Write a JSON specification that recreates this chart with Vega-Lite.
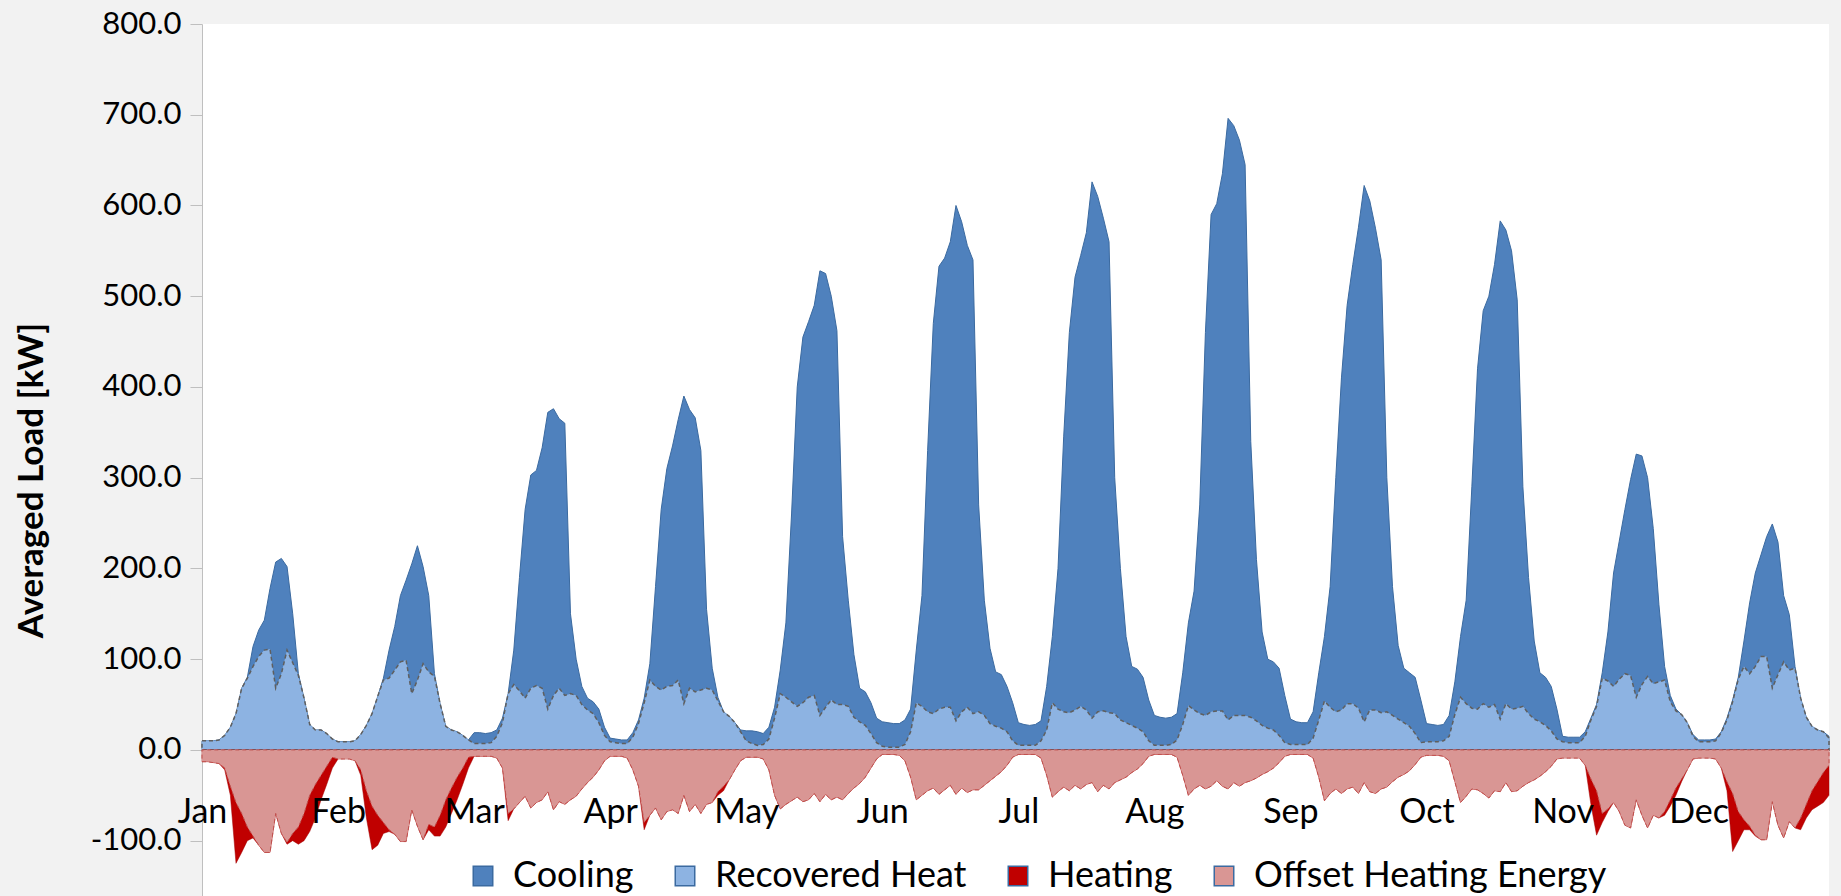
{
"$schema":"https://vega.github.io/schema/vega-lite/v6.json",
"width":1627,"height":872,
"autosize":{"type":"none"},
"padding":{"left":202,"top":24,"right":12,"bottom":0},
"background":"#f2f2f2",
"config":{"view":{"fill":"white","stroke":null},"font":"Lato"},
"data":{"values":[
{"i":0,"c":10,"r":10,"h":-13,"o":-13},{"i":1,"c":10,"r":10,"h":-13,"o":-13},{"i":2,"c":10,"r":10,"h":-14,"o":-14},{"i":3,"c":11,"r":11,"h":-15,"o":-15},{"i":4,"c":16,"r":16,"h":-22,"o":-20},{"i":5,"c":25,"r":25,"h":-50,"o":-40},{"i":6,"c":40,"r":40,"h":-125,"o":-58},{"i":7,"c":68,"r":68,"h":-113,"o":-70},{"i":8,"c":80,"r":79,"h":-100,"o":-85},{"i":9,"c":114,"r":92,"h":-97,"o":-95},{"i":10,"c":132,"r":103,"h":-105,"o":-105},{"i":11,"c":143,"r":110,"h":-113,"o":-113},{"i":12,"c":178,"r":111,"h":-113,"o":-113},{"i":13,"c":207,"r":68,"h":-70,"o":-70},{"i":14,"c":211,"r":84,"h":-92,"o":-92},{"i":15,"c":202,"r":110,"h":-104,"o":-102},{"i":16,"c":150,"r":96,"h":-100,"o":-92},{"i":17,"c":84,"r":82,"h":-104,"o":-85},{"i":18,"c":57,"r":57,"h":-100,"o":-70},{"i":19,"c":28,"r":28,"h":-90,"o":-50},{"i":20,"c":22,"r":22,"h":-75,"o":-38},{"i":21,"c":22,"r":22,"h":-55,"o":-28},{"i":22,"c":18,"r":18,"h":-38,"o":-18},{"i":23,"c":12,"r":12,"h":-20,"o":-8},
{"i":24,"c":9,"r":9,"h":-10,"o":-10},{"i":25,"c":9,"r":9,"h":-10,"o":-10},{"i":26,"c":9,"r":9,"h":-10,"o":-10},{"i":27,"c":10,"r":10,"h":-12,"o":-12},{"i":28,"c":17,"r":17,"h":-28,"o":-22},{"i":29,"c":27,"r":27,"h":-75,"o":-45},{"i":30,"c":40,"r":40,"h":-110,"o":-62},{"i":31,"c":59,"r":59,"h":-105,"o":-72},{"i":32,"c":79,"r":77,"h":-92,"o":-80},{"i":33,"c":110,"r":79,"h":-90,"o":-88},{"i":34,"c":136,"r":88,"h":-93,"o":-93},{"i":35,"c":170,"r":97,"h":-101,"o":-101},{"i":36,"c":187,"r":99,"h":-101,"o":-101},{"i":37,"c":205,"r":62,"h":-66,"o":-66},{"i":38,"c":225,"r":77,"h":-84,"o":-84},{"i":39,"c":202,"r":95,"h":-99,"o":-99},{"i":40,"c":170,"r":86,"h":-88,"o":-82},{"i":41,"c":84,"r":81,"h":-95,"o":-85},{"i":42,"c":51,"r":51,"h":-95,"o":-72},{"i":43,"c":26,"r":26,"h":-85,"o":-55},{"i":44,"c":22,"r":22,"h":-70,"o":-42},{"i":45,"c":20,"r":20,"h":-55,"o":-30},{"i":46,"c":16,"r":16,"h":-38,"o":-20},{"i":47,"c":11,"r":11,"h":-20,"o":-8},
{"i":48,"c":19,"r":7,"h":-7,"o":-7},{"i":49,"c":19,"r":7,"h":-7,"o":-7},{"i":50,"c":18,"r":7,"h":-7,"o":-7},{"i":51,"c":19,"r":8,"h":-7,"o":-7},{"i":52,"c":22,"r":15,"h":-9,"o":-9},{"i":53,"c":35,"r":30,"h":-20,"o":-20},{"i":54,"c":62,"r":62,"h":-78,"o":-70},{"i":55,"c":110,"r":72,"h":-65,"o":-65},{"i":56,"c":190,"r":65,"h":-58,"o":-58},{"i":57,"c":265,"r":57,"h":-51,"o":-51},{"i":58,"c":303,"r":68,"h":-64,"o":-64},{"i":59,"c":308,"r":71,"h":-58,"o":-58},{"i":60,"c":333,"r":68,"h":-55,"o":-55},{"i":61,"c":372,"r":45,"h":-46,"o":-46},{"i":62,"c":376,"r":60,"h":-66,"o":-66},{"i":63,"c":365,"r":68,"h":-57,"o":-57},{"i":64,"c":360,"r":60,"h":-60,"o":-60},{"i":65,"c":150,"r":62,"h":-55,"o":-55},{"i":66,"c":100,"r":60,"h":-51,"o":-51},{"i":67,"c":70,"r":50,"h":-43,"o":-43},{"i":68,"c":57,"r":44,"h":-36,"o":-36},{"i":69,"c":53,"r":40,"h":-30,"o":-30},{"i":70,"c":45,"r":30,"h":-22,"o":-22},{"i":71,"c":25,"r":16,"h":-12,"o":-12},
{"i":72,"c":13,"r":9,"h":-7,"o":-7},{"i":73,"c":12,"r":8,"h":-7,"o":-7},{"i":74,"c":11,"r":7,"h":-7,"o":-7},{"i":75,"c":11,"r":7,"h":-9,"o":-9},{"i":76,"c":19,"r":14,"h":-22,"o":-22},{"i":77,"c":33,"r":29,"h":-40,"o":-40},{"i":78,"c":57,"r":52,"h":-88,"o":-80},{"i":79,"c":95,"r":77,"h":-72,"o":-72},{"i":80,"c":180,"r":70,"h":-64,"o":-64},{"i":81,"c":265,"r":66,"h":-77,"o":-77},{"i":82,"c":310,"r":70,"h":-68,"o":-68},{"i":83,"c":335,"r":71,"h":-66,"o":-66},{"i":84,"c":364,"r":77,"h":-70,"o":-70},{"i":85,"c":390,"r":51,"h":-50,"o":-50},{"i":86,"c":375,"r":68,"h":-68,"o":-68},{"i":87,"c":366,"r":64,"h":-60,"o":-60},{"i":88,"c":330,"r":66,"h":-70,"o":-70},{"i":89,"c":155,"r":68,"h":-60,"o":-60},{"i":90,"c":90,"r":66,"h":-58,"o":-58},{"i":91,"c":58,"r":54,"h":-50,"o":-46},{"i":92,"c":42,"r":42,"h":-45,"o":-40},{"i":93,"c":37,"r":37,"h":-33,"o":-33},{"i":94,"c":30,"r":30,"h":-22,"o":-22},{"i":95,"c":22,"r":20,"h":-12,"o":-12},
{"i":96,"c":21,"r":10,"h":-8,"o":-8},{"i":97,"c":21,"r":7,"h":-8,"o":-8},{"i":98,"c":20,"r":5,"h":-8,"o":-8},{"i":99,"c":18,"r":6,"h":-10,"o":-10},{"i":100,"c":25,"r":12,"h":-22,"o":-22},{"i":101,"c":47,"r":35,"h":-50,"o":-50},{"i":102,"c":88,"r":62,"h":-65,"o":-65},{"i":103,"c":140,"r":58,"h":-60,"o":-60},{"i":104,"c":260,"r":53,"h":-56,"o":-56},{"i":105,"c":400,"r":48,"h":-52,"o":-52},{"i":106,"c":455,"r":52,"h":-57,"o":-57},{"i":107,"c":472,"r":58,"h":-55,"o":-55},{"i":108,"c":490,"r":60,"h":-48,"o":-48},{"i":109,"c":528,"r":38,"h":-57,"o":-57},{"i":110,"c":525,"r":47,"h":-49,"o":-49},{"i":111,"c":500,"r":55,"h":-55,"o":-55},{"i":112,"c":462,"r":50,"h":-52,"o":-52},{"i":113,"c":235,"r":50,"h":-55,"o":-55},{"i":114,"c":165,"r":48,"h":-48,"o":-48},{"i":115,"c":105,"r":36,"h":-42,"o":-42},{"i":116,"c":68,"r":31,"h":-37,"o":-37},{"i":117,"c":64,"r":27,"h":-30,"o":-30},{"i":118,"c":52,"r":18,"h":-20,"o":-20},{"i":119,"c":35,"r":8,"h":-10,"o":-10},
{"i":120,"c":31,"r":4,"h":-5,"o":-5},{"i":121,"c":30,"r":3,"h":-5,"o":-5},{"i":122,"c":29,"r":3,"h":-5,"o":-5},{"i":123,"c":29,"r":3,"h":-6,"o":-6},{"i":124,"c":33,"r":6,"h":-12,"o":-12},{"i":125,"c":45,"r":20,"h":-30,"o":-30},{"i":126,"c":110,"r":52,"h":-55,"o":-55},{"i":127,"c":170,"r":48,"h":-50,"o":-50},{"i":128,"c":330,"r":42,"h":-45,"o":-45},{"i":129,"c":470,"r":40,"h":-42,"o":-42},{"i":130,"c":533,"r":45,"h":-49,"o":-49},{"i":131,"c":542,"r":47,"h":-44,"o":-44},{"i":132,"c":560,"r":47,"h":-39,"o":-39},{"i":133,"c":600,"r":32,"h":-49,"o":-49},{"i":134,"c":582,"r":42,"h":-42,"o":-42},{"i":135,"c":556,"r":47,"h":-47,"o":-47},{"i":136,"c":540,"r":40,"h":-44,"o":-44},{"i":137,"c":270,"r":42,"h":-44,"o":-44},{"i":138,"c":165,"r":38,"h":-39,"o":-39},{"i":139,"c":112,"r":29,"h":-34,"o":-34},{"i":140,"c":86,"r":26,"h":-29,"o":-29},{"i":141,"c":83,"r":24,"h":-24,"o":-24},{"i":142,"c":70,"r":20,"h":-17,"o":-17},{"i":143,"c":52,"r":10,"h":-8,"o":-8},
{"i":144,"c":30,"r":5,"h":-5,"o":-5},{"i":145,"c":28,"r":5,"h":-5,"o":-5},{"i":146,"c":27,"r":5,"h":-5,"o":-5},{"i":147,"c":28,"r":5,"h":-5,"o":-5},{"i":148,"c":32,"r":10,"h":-9,"o":-9},{"i":149,"c":70,"r":22,"h":-28,"o":-28},{"i":150,"c":125,"r":52,"h":-52,"o":-52},{"i":151,"c":200,"r":45,"h":-46,"o":-46},{"i":152,"c":345,"r":42,"h":-41,"o":-41},{"i":153,"c":460,"r":41,"h":-45,"o":-45},{"i":154,"c":521,"r":44,"h":-39,"o":-39},{"i":155,"c":545,"r":48,"h":-43,"o":-43},{"i":156,"c":570,"r":44,"h":-38,"o":-38},{"i":157,"c":626,"r":35,"h":-36,"o":-36},{"i":158,"c":610,"r":42,"h":-46,"o":-46},{"i":159,"c":586,"r":43,"h":-39,"o":-39},{"i":160,"c":560,"r":41,"h":-43,"o":-43},{"i":161,"c":300,"r":40,"h":-36,"o":-36},{"i":162,"c":200,"r":33,"h":-33,"o":-33},{"i":163,"c":125,"r":30,"h":-30,"o":-30},{"i":164,"c":92,"r":27,"h":-25,"o":-25},{"i":165,"c":89,"r":24,"h":-21,"o":-21},{"i":166,"c":80,"r":20,"h":-15,"o":-15},{"i":167,"c":55,"r":10,"h":-7,"o":-7},
{"i":168,"c":38,"r":5,"h":-5,"o":-5},{"i":169,"c":36,"r":5,"h":-5,"o":-5},{"i":170,"c":35,"r":5,"h":-5,"o":-5},{"i":171,"c":36,"r":6,"h":-5,"o":-5},{"i":172,"c":40,"r":11,"h":-8,"o":-8},{"i":173,"c":85,"r":28,"h":-28,"o":-28},{"i":174,"c":140,"r":49,"h":-50,"o":-50},{"i":175,"c":175,"r":44,"h":-43,"o":-43},{"i":176,"c":270,"r":40,"h":-39,"o":-39},{"i":177,"c":460,"r":38,"h":-43,"o":-43},{"i":178,"c":590,"r":42,"h":-40,"o":-40},{"i":179,"c":602,"r":43,"h":-34,"o":-34},{"i":180,"c":635,"r":43,"h":-40,"o":-40},{"i":181,"c":696,"r":33,"h":-43,"o":-43},{"i":182,"c":688,"r":38,"h":-36,"o":-36},{"i":183,"c":672,"r":38,"h":-40,"o":-40},{"i":184,"c":645,"r":38,"h":-36,"o":-36},{"i":185,"c":340,"r":36,"h":-34,"o":-34},{"i":186,"c":210,"r":32,"h":-31,"o":-31},{"i":187,"c":130,"r":27,"h":-27,"o":-27},{"i":188,"c":100,"r":24,"h":-24,"o":-24},{"i":189,"c":97,"r":22,"h":-20,"o":-20},{"i":190,"c":90,"r":16,"h":-14,"o":-14},{"i":191,"c":60,"r":8,"h":-7,"o":-7},
{"i":192,"c":34,"r":6,"h":-5,"o":-5},{"i":193,"c":31,"r":6,"h":-5,"o":-5},{"i":194,"c":30,"r":6,"h":-5,"o":-5},{"i":195,"c":30,"r":6,"h":-5,"o":-5},{"i":196,"c":42,"r":13,"h":-9,"o":-9},{"i":197,"c":85,"r":33,"h":-30,"o":-30},{"i":198,"c":125,"r":54,"h":-56,"o":-56},{"i":199,"c":180,"r":47,"h":-48,"o":-48},{"i":200,"c":300,"r":42,"h":-43,"o":-43},{"i":201,"c":410,"r":44,"h":-48,"o":-48},{"i":202,"c":490,"r":51,"h":-43,"o":-43},{"i":203,"c":535,"r":51,"h":-41,"o":-41},{"i":204,"c":576,"r":46,"h":-48,"o":-48},{"i":205,"c":622,"r":31,"h":-36,"o":-36},{"i":206,"c":605,"r":44,"h":-46,"o":-46},{"i":207,"c":575,"r":44,"h":-48,"o":-48},{"i":208,"c":540,"r":41,"h":-43,"o":-43},{"i":209,"c":300,"r":42,"h":-41,"o":-41},{"i":210,"c":180,"r":38,"h":-35,"o":-35},{"i":211,"c":115,"r":34,"h":-30,"o":-30},{"i":212,"c":90,"r":30,"h":-27,"o":-27},{"i":213,"c":85,"r":26,"h":-23,"o":-23},{"i":214,"c":80,"r":18,"h":-16,"o":-16},{"i":215,"c":55,"r":8,"h":-8,"o":-8},
{"i":216,"c":29,"r":9,"h":-6,"o":-6},{"i":217,"c":28,"r":9,"h":-6,"o":-6},{"i":218,"c":27,"r":9,"h":-6,"o":-6},{"i":219,"c":28,"r":10,"h":-7,"o":-7},{"i":220,"c":38,"r":15,"h":-12,"o":-12},{"i":221,"c":75,"r":39,"h":-35,"o":-35},{"i":222,"c":125,"r":58,"h":-58,"o":-58},{"i":223,"c":165,"r":51,"h":-51,"o":-51},{"i":224,"c":290,"r":46,"h":-43,"o":-43},{"i":225,"c":420,"r":45,"h":-44,"o":-44},{"i":226,"c":484,"r":51,"h":-48,"o":-48},{"i":227,"c":500,"r":47,"h":-53,"o":-53},{"i":228,"c":535,"r":50,"h":-45,"o":-45},{"i":229,"c":583,"r":34,"h":-46,"o":-46},{"i":230,"c":573,"r":51,"h":-36,"o":-36},{"i":231,"c":550,"r":45,"h":-46,"o":-46},{"i":232,"c":496,"r":46,"h":-45,"o":-45},{"i":233,"c":290,"r":48,"h":-40,"o":-40},{"i":234,"c":190,"r":40,"h":-36,"o":-36},{"i":235,"c":120,"r":34,"h":-33,"o":-33},{"i":236,"c":85,"r":31,"h":-29,"o":-29},{"i":237,"c":80,"r":27,"h":-24,"o":-24},{"i":238,"c":70,"r":21,"h":-18,"o":-18},{"i":239,"c":45,"r":12,"h":-10,"o":-10},
{"i":240,"c":15,"r":9,"h":-9,"o":-9},{"i":241,"c":14,"r":8,"h":-9,"o":-9},{"i":242,"c":14,"r":8,"h":-9,"o":-9},{"i":243,"c":14,"r":8,"h":-9,"o":-9},{"i":244,"c":20,"r":15,"h":-17,"o":-17},{"i":245,"c":35,"r":33,"h":-60,"o":-32},{"i":246,"c":50,"r":48,"h":-94,"o":-45},{"i":247,"c":85,"r":79,"h":-80,"o":-70},{"i":248,"c":130,"r":76,"h":-68,"o":-65},{"i":249,"c":195,"r":70,"h":-58,"o":-58},{"i":250,"c":230,"r":78,"h":-68,"o":-68},{"i":251,"c":265,"r":84,"h":-83,"o":-83},{"i":252,"c":298,"r":82,"h":-86,"o":-86},{"i":253,"c":326,"r":58,"h":-55,"o":-55},{"i":254,"c":324,"r":72,"h":-72,"o":-72},{"i":255,"c":300,"r":81,"h":-86,"o":-86},{"i":256,"c":244,"r":73,"h":-72,"o":-72},{"i":257,"c":160,"r":75,"h":-75,"o":-75},{"i":258,"c":92,"r":77,"h":-72,"o":-68},{"i":259,"c":60,"r":53,"h":-62,"o":-55},{"i":260,"c":45,"r":43,"h":-50,"o":-42},{"i":261,"c":39,"r":39,"h":-35,"o":-32},{"i":262,"c":30,"r":30,"h":-22,"o":-22},{"i":263,"c":17,"r":15,"h":-10,"o":-10},
{"i":264,"c":11,"r":9,"h":-9,"o":-9},{"i":265,"c":11,"r":9,"h":-9,"o":-9},{"i":266,"c":11,"r":9,"h":-9,"o":-9},{"i":267,"c":12,"r":10,"h":-10,"o":-10},{"i":268,"c":20,"r":19,"h":-20,"o":-20},{"i":269,"c":35,"r":33,"h":-45,"o":-35},{"i":270,"c":55,"r":53,"h":-112,"o":-48},{"i":271,"c":80,"r":78,"h":-100,"o":-68},{"i":272,"c":120,"r":92,"h":-88,"o":-77},{"i":273,"c":162,"r":84,"h":-88,"o":-84},{"i":274,"c":195,"r":92,"h":-95,"o":-94},{"i":275,"c":215,"r":103,"h":-99,"o":-99},{"i":276,"c":235,"r":103,"h":-99,"o":-99},{"i":277,"c":249,"r":68,"h":-57,"o":-57},{"i":278,"c":229,"r":83,"h":-83,"o":-83},{"i":279,"c":170,"r":97,"h":-97,"o":-97},{"i":280,"c":149,"r":88,"h":-79,"o":-79},{"i":281,"c":92,"r":90,"h":-86,"o":-86},{"i":282,"c":57,"r":57,"h":-88,"o":-75},{"i":283,"c":36,"r":36,"h":-75,"o":-60},{"i":284,"c":26,"r":26,"h":-66,"o":-45},{"i":285,"c":22,"r":22,"h":-62,"o":-35},{"i":286,"c":20,"r":20,"h":-58,"o":-25},{"i":287,"c":15,"r":13,"h":-50,"o":-17}
]},
"encoding":{
"x":{"field":"i","type":"quantitative","scale":{"domain":[0,287],"nice":false,"zero":false},
 "axis":{"values":[0,24,48,72,96,120,144,168,192,216,240,264],"labelExpr":"['Jan','Feb','Mar','Apr','May','Jun','Jul','Aug','Sep','Oct','Nov','Dec'][round(datum.value/24)]","domain":false,"ticks":false,"grid":false,"labelFlush":false,"labelOverlap":false,"labelBound":false,"labelFont":"Lato","labelFontSize":34,"labelColor":"#000000","labelBaseline":"middle","labelPadding":0,"offset":-84,"title":null,"zindex":1}},
"y":{"field":"kW","type":"quantitative","stack":null,"scale":{"domain":[-161,800],"nice":false,"zero":false},
 "axis":{"values":[-100,0,100,200,300,400,500,600,700,800],"labelExpr":"datum.value < 0 ? '-' + format(-datum.value, '.1f') : format(datum.value, '.1f')","grid":false,"title":"Averaged Load [kW]","titleFont":"Lato","titleFontSize":35,"titleFontWeight":"bold","titleColor":"#000000","titleAngle":270,"titleAlign":"center","titleBaseline":"middle","titleX":-171,"titleY":456,"labelFont":"Lato","labelFontSize":31,"labelColor":"#000000","labelPadding":9,"tickSize":12,"tickColor":"#bfbfbf","domainColor":"#bfbfbf"}},
"y2":{"datum":0},
"fill":{"field":"s","type":"nominal","scale":{"domain":["c","r","h","o"],"range":["#4f81bd","#8db3e2","#c00000","#d99694"]},
 "legend":{"orient":"none","legendX":263,"legendY":834,"direction":"horizontal","title":null,"symbolType":"square","symbolSize":380,"symbolStrokeWidth":1.5,"labelFont":"Lato","labelFontSize":36,"labelColor":"#000000","labelOffset":12,"labelLimit":0,"columnPadding":33,
  "labelExpr":"datum.value=='c'?'Cooling':datum.value=='r'?'Recovered Heat':datum.value=='h'?'Heating':'Offset Heating Energy'",
  "encode":{"symbols":{"update":{"stroke":{"signal":"datum.value=='c'?'#3b6aa0':datum.value=='r'?'#5f5f5f':datum.value=='h'?'#a00000':'#c0504d'"},"strokeDash":{"signal":"datum.value=='r'||datum.value=='o'?[3,2]:[]"}}}}}}
},
"layer":[
{"transform":[{"fold":["c"],"as":["s","kW"]}],"mark":{"type":"area","stroke":"#3b6aa0","strokeWidth":1}},
{"transform":[{"fold":["r"],"as":["s","kW"]}],"mark":{"type":"area","stroke":"#5f5f5f","strokeWidth":1.5,"strokeDash":[4,3]}},
{"transform":[{"fold":["h"],"as":["s","kW"]}],"mark":{"type":"area","stroke":"#a00000","strokeWidth":0.5}},
{"transform":[{"fold":["o"],"as":["s","kW"]}],"mark":{"type":"area","stroke":"#c0504d","strokeWidth":1,"strokeDash":[4,3]}}
]
}
